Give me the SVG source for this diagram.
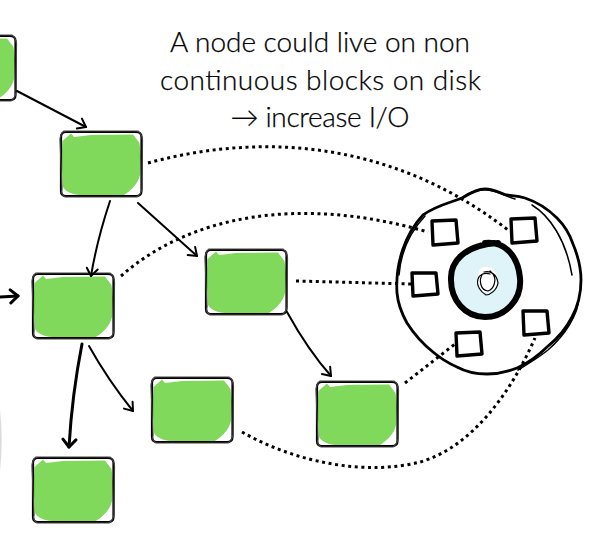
<svg xmlns="http://www.w3.org/2000/svg" xmlns:xlink="http://www.w3.org/1999/xlink" width="598" height="546" viewBox="0 0 598 546">
<style>
.blob{fill:#80d95a}
.edge1{fill:none;stroke:#000;stroke-width:2.2;stroke-linejoin:round;stroke-linecap:round}
.edge2{fill:none;stroke:#444;stroke-width:1.2;stroke-linecap:round}
.cursor{fill:none;stroke:#000;stroke-linecap:round;stroke-linejoin:round}
.arrow{fill:none;stroke:#000;stroke-width:2;stroke-linecap:round;marker-end:url(#open)}
.thick{stroke-width:3;marker-end:url(#openb)}
.dot{fill:none;stroke:#000;stroke-width:3;stroke-dasharray:3 3.6}
.sq{fill:#fff;stroke:#000;stroke-width:3.4;stroke-linejoin:round}
.ring{fill:none;stroke:#000;stroke-linecap:round}
text{font-family:"Lato","Open Sans",sans-serif;font-weight:300;font-size:28px;fill:#000;stroke:#000;stroke-width:.25;text-anchor:middle}
</style>
<defs>
<marker id="open" viewBox="-10 -8 12 16" refX="0" refY="0" markerWidth="12" markerHeight="16" markerUnits="userSpaceOnUse" orient="auto">
<path d="M-7.5,-5.5 L0,0 L-7.5,5.5" fill="none" stroke="#000" stroke-width="2" stroke-linecap="round" stroke-linejoin="round"/>
</marker>
<marker id="openb" viewBox="-10 -9 12 18" refX="0" refY="0" markerWidth="12" markerHeight="18" markerUnits="userSpaceOnUse" orient="auto">
<path d="M-7.5,-6.5 L0,0 L-7.5,6.5" fill="none" stroke="#000" stroke-width="3" stroke-linecap="round" stroke-linejoin="round"/>
</marker>
<g id="card">
<path class="blob" d="M1.5,10 L10,2.5 L13,6 L30,4 L72,3.5 L78.5,12 L80,25 L79,44 C77,52 72,58 63,64 L28,64.5 C14,64.5 5,62 2,56 L0.5,30 Z"/>
<path class="edge1" d="M5,1 H75 Q80.5,1 80.5,6 V60 Q80.5,65 75,65 H5 Q0,65 0,60 V6 Q0,1 5,1 Z"/>
<path class="edge2" d="M3,0 H77 Q81,3 81.5,9 L81,58 Q80,63 76,66 H4 Q-.5,63 1,58 L-1,8 Q0,2 3,0"/>
</g>
</defs>
<rect width="598" height="546" fill="#fff"/>
<path d="M0,410 Q3.5,440 0,471 Z" fill="#dcdcdc"/>
<g id="title">
<text x="320" y="52" textLength="300" lengthAdjust="spacing">A node could live on non</text>
<text x="320.5" y="90" textLength="321" lengthAdjust="spacing">continuous blocks on disk</text>
<text x="320" y="127" textLength="179" lengthAdjust="spacing">→ increase I/O</text>
</g>
<g id="disk">
<path d="M485,243 C505,241 518,256 520,278 C522,300 505,317 485,317 C465,317 451,300 451,280 C450,262 464,245 485,243 Z" fill="#dff4f9"/>
<path class="ring" stroke-width="6" d="M485,243 C505,241 518,256 520,278 C522,300 505,317 485,317 C465,317 451,300 451,280 C450,262 464,245 498,243"/>
<path d="M481,268 C490,264 497,270 497,280 C497,290 490,293 483,292 C477,290 476,272 481,268 Z" fill="#fff"/>
<path class="cursor" stroke-width="1.2" d="M484,272 C491,270 497,275 498,283 C497,290 490,295 486,295 C481,292 476,286 478,279 C479,275 484,272 490,274 M482,275 C479,280 480,290 488,291 C494,289 497,280 493,274 L490,271"/>
<path class="ring" stroke-width="2.8" d="M397,293 C395,262 406,233 423,215 C437,205 450,203 462,198 C470,193 477,189 485,189 C494,189 500,193 507,195 C514,196 518,196 525,198 C537,202 548,209 557,218 C565,226 570,235 573,244 C578,256 581,268 581,280 C581,294 578,306 572,317 C566,329 557,339 547,347 C538,356 528,363 517,368 C507,372 497,374 487,374 C476,374 466,372 457,367 C448,363 440,358 433,352 C423,344 414,334 407,323 C402,314 398,304 397,293"/>
<path class="ring" stroke-width="1.5" d="M399,275 C401,250 410,232 425,216 M463,197 C472,191 480,189 488,190 C497,191 505,196 515,199 M532,205 C550,216 566,240 572,275 M579,298 C578,315 565,335 548,350 C538,358 528,364 518,370"/>
</g>
<g id="block-1"><path class="sq" d="M432,221 L456,220 L458,243 L433,245 Z"/></g>
<g id="block-2"><path class="sq" d="M511,219 L535,218 L537,241 L512,243 Z"/></g>
<g id="block-3"><path class="sq" d="M412,273 L436,273 L438,294 L413,296 Z"/></g>
<g id="block-4"><path class="sq" d="M523,311 L547,311 L549,333 L524,335 Z"/></g>
<g id="block-5"><path class="sq" d="M456,333 L480,332 L482,354 L457,356 Z"/></g>
<g id="node-0"><use href="#card" xlink:href="#card" x="-65" y="35"/></g>
<g id="node-1"><use href="#card" xlink:href="#card" x="61" y="131"/></g>
<g id="node-2"><use href="#card" xlink:href="#card" x="33" y="273"/></g>
<g id="node-3"><use href="#card" xlink:href="#card" x="206" y="249"/></g>
<g id="node-4"><use href="#card" xlink:href="#card" x="152" y="377"/></g>
<g id="node-5"><use href="#card" xlink:href="#card" x="317" y="381"/></g>
<g id="node-6"><use href="#card" xlink:href="#card" x="33" y="457"/></g>
<g id="connectors">
<path class="arrow" d="M17,91 L86,127"/>
<path class="arrow" d="M110,201 Q97,240 91,276"/>
<path class="arrow" d="M138,203 L197,256"/>
<path class="arrow thick" d="M0,297 L18,296"/>
<path class="arrow" d="M287,312 Q308,350 331,376"/>
<path class="arrow thick" d="M82,344 Q72,395 69,447"/>
<path class="arrow" d="M89,346 Q108,380 133,411"/>
<path class="dot" d="M148,163 C250,135 385,135 508,230"/>
<path class="dot" d="M121,276 C190,215 300,195 428,232"/>
<path class="dot" d="M296,281 L412,284"/>
<path class="dot" d="M405,383 L455,344"/>
<path class="dot" d="M242,432 C300,465 370,475 420,462 C470,448 510,395 535,338"/>
</g>
</svg>
